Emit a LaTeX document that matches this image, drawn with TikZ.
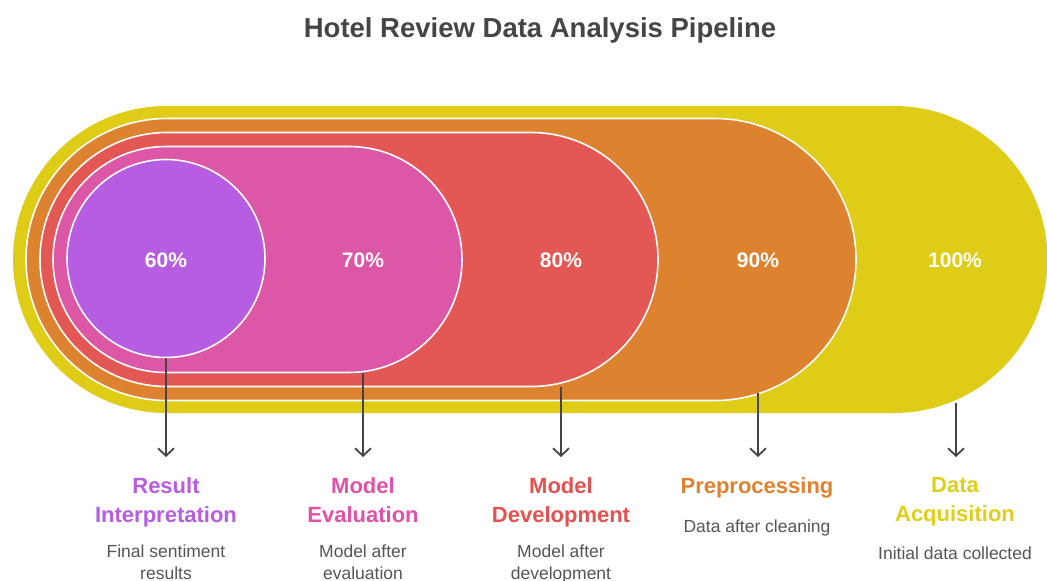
\documentclass[tikz,border=0pt]{standalone}
\usepackage{fontspec}
\setmainfont{Liberation Sans}
\usetikzlibrary{arrows.meta}
\definecolor{cpurple}{HTML}{B65DE2}
\definecolor{cpink}{HTML}{DC57A6}
\definecolor{cred}{HTML}{E35755}
\definecolor{corange}{HTML}{DD822F}
\definecolor{cyellow}{HTML}{DECC17}
\definecolor{tpink}{HTML}{E052A8}
\definecolor{tred}{HTML}{E5514F}
\definecolor{torange}{HTML}{E0812E}
\definecolor{tyellow}{HTML}{E0CF1A}
\definecolor{darktext}{HTML}{454545}
\definecolor{desctext}{HTML}{555555}
\definecolor{linecol}{HTML}{444444}
\tikzset{
  band/.style={draw=white, line width=1.6pt},
  pct/.style={text=white, font=\bfseries\fontsize{21}{24}\selectfont, inner sep=0pt},
  stagetitle/.style={font=\bfseries\fontsize{22}{28.5}\selectfont, align=center, inner sep=0pt, anchor=north},
  stagedesc/.style={text=desctext, font=\fontsize{17.5}{21.5}\selectfont, align=center, inner sep=0pt, anchor=north},
  connector/.style={draw=linecol, line width=1.8pt, -{Straight Barb[length=7.5pt, width=16pt, line width=1.8pt]}},
}
\newcommand{\stadium}[4]{% left cx, right cx, cy, r
  (#1,#3-#4) -- (#2,#3-#4) arc[start angle=-90, end angle=90, radius=#4]
  -- (#1,#3+#4) arc[start angle=90, end angle=270, radius=#4] -- cycle}
\begin{document}
\begin{tikzpicture}[x=1pt,y=-1pt]
\useasboundingbox (0,0) rectangle (1047,581);
% shapes
\fill[cyellow] \stadium{166.5}{894}{259.5}{153.5};
\path[band, fill=corange] \stadium{167}{715}{259.5}{141};
\path[band, fill=cred] \stadium{167}{531}{259.5}{127};
\path[band, fill=cpink] \stadium{166}{349}{259.5}{113};
\path[band, fill=cpurple] (166,258.5) circle[radius=99];
% percent labels
\node[pct] (p60) at (166,260) {60\%};
\node[pct] (p70) at (363,260) {70\%};
\node[pct] (p80) at (561,260) {80\%};
\node[pct] (p90) at (758,260) {90\%};
\node[pct] (p100) at (955,260) {100\%};
% connector start / end points
\coordinate (s60) at (166,357.5);
\coordinate (s70) at (363,373);
\coordinate (s80) at (561,387);
\coordinate (s90) at (758,393);
\coordinate (s100) at (956,403);
\coordinate (e60) at (166,457);
\coordinate (e70) at (363,457);
\coordinate (e80) at (561,457);
\coordinate (e90) at (758,457);
\coordinate (e100) at (956,457);
\draw[connector] (s60) -- (e60);
\draw[connector] (s70) -- (e70);
\draw[connector] (s80) -- (e80);
\draw[connector] (s90) -- (e90);
\draw[connector] (s100) -- (e100);
% title
\node[text=darktext, font=\bfseries\fontsize{27.5}{32}\selectfont, inner sep=0pt, anchor=base] (title) at (540,37) {Hotel Review Data Analysis Pipeline};
% stage titles
\node[stagetitle, text=cpurple] (t60) at (166,477.5) {Result\\Interpretation};
\node[stagetitle, text=tpink] (t70) at (363,477.5) {Model\\Evaluation};
\node[stagetitle, text=tred] (t80) at (561,477.5) {Model\\Development};
\node[stagetitle, text=torange] (t90) at (757,477.5) {Preprocessing};
\node[stagetitle, text=tyellow] (t100) at (955,477.5) {Data\\Acquisition};
% descriptions
\node[stagedesc] (d60) at (166,545) {Final sentiment\\results};
\node[stagedesc] (d70) at (363,545) {Model after\\evaluation};
\node[stagedesc] (d80) at (561,545) {Model after\\development};
\node[stagedesc] (d90) at (757,519.5) {Data after cleaning};
\node[stagedesc] (d100) at (955,547) {Initial data collected};
\end{tikzpicture}
\end{document}
